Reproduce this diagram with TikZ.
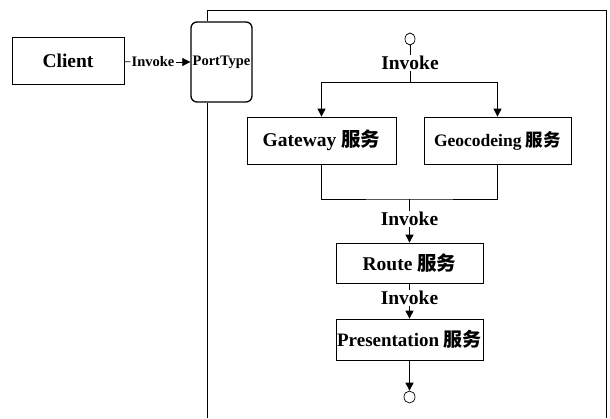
\documentclass[tikz,border=0pt]{standalone}
\usepackage{fontspec}
\setmainfont{Liberation Serif}
\newfontfamily\cjk{Noto Sans CJK SC}
\usetikzlibrary{arrows.meta,shapes.geometric}
\begin{document}
\begin{tikzpicture}[
        x=1pt, y=-1pt,
        service/.style={rectangle, draw, line width=0.7pt, minimum width=147pt, minimum height=47pt, align=center, font=\fontsize{19.5}{21}\selectfont\bfseries},
        port/.style={rectangle, draw, rounded corners=6pt, line width=1.3pt, minimum width=61pt, minimum height=80pt, inner sep=1pt, align=center, font=\fontsize{14.5}{16}\selectfont\bfseries},
        label/.style={inner sep=1pt, font=\fontsize{19.5}{21}\selectfont\bfseries},
        terminal/.style={ellipse, draw, line width=0.7pt, minimum width=11pt, minimum height=12pt, inner sep=0pt},
        arrow/.style={-{Triangle[length=8pt,width=8pt]}, line width=0.7pt},
        link/.style={line width=0.7pt}
    ]
    \useasboundingbox (0,0) rectangle (610,418);

    % Client and its port
    \node[service, minimum width=112pt] (client) at (68,61) {Client};
    \node[port] (porttype) at (221.5,62) {PortType};
    \node[label, font=\fontsize{14.5}{16}\selectfont\bfseries] (inv_client) at (153,62) {Invoke};

    % Frame round the composed service
    \coordinate (frame_tl) at (207,10);
    \coordinate (frame_tr) at (606,10);
    \coordinate (frame_br) at (606,418);
    \coordinate (frame_bl) at (207,418);
    \draw[link] (porttype.north -| frame_tl) -- (frame_tl) -- (frame_tr) -- (frame_br);
    \draw[link] (porttype.south -| frame_bl) -- (frame_bl);

    % Start of the flow
    \node[terminal, minimum width=10pt] (start) at (410,39) {};
    \node[label] (inv_top) at (410,63) {Invoke};
    \coordinate (split) at (410,82);

    % Services
    \node[service, minimum width=149pt] (gateway) at (321.5,140.5) {Gateway {\cjk 服务}};
    \node[service, font=\fontsize{17.5}{19}\selectfont\bfseries] (geocode) at (497.5,140.5) {Geocodeing {\cjk 服务}};
    \coordinate (join) at (409.5,199);
    \node[label] (inv_route) at (409.5,219) {Invoke};
    \node[service, minimum height=40pt] (route) at (409.5,263) {Route {\cjk 服务}};
    \node[label] (inv_pres) at (409.5,298) {Invoke};
    \node[service, minimum height=41pt, inner xsep=0pt, font=\fontsize{19}{21}\selectfont\bfseries] (present) at (409.5,339.5) {Presentation {\cjk 服务}};

    % End of the flow
    \node[terminal] (stop) at (409.5,397) {};

    % Arrows
    \draw[link] (client) -- (inv_client);
    \draw[arrow] (inv_client) -- (porttype);
    \draw[link] (start) -- (inv_top);
    \draw[link] (inv_top) -- (split);
    \draw[arrow] (split) -| (gateway);
    \draw[arrow] (split) -| (geocode);
    \draw[link] (gateway) |- (join) -| (geocode);
    \draw[link] (join) -- (inv_route);
    \draw[arrow] (inv_route) -- (route);
    \draw[link] (route) -- (inv_pres);
    \draw[arrow] (inv_pres) -- (present);
    \draw[arrow] (present) -- (stop);

\end{tikzpicture}
\end{document}
